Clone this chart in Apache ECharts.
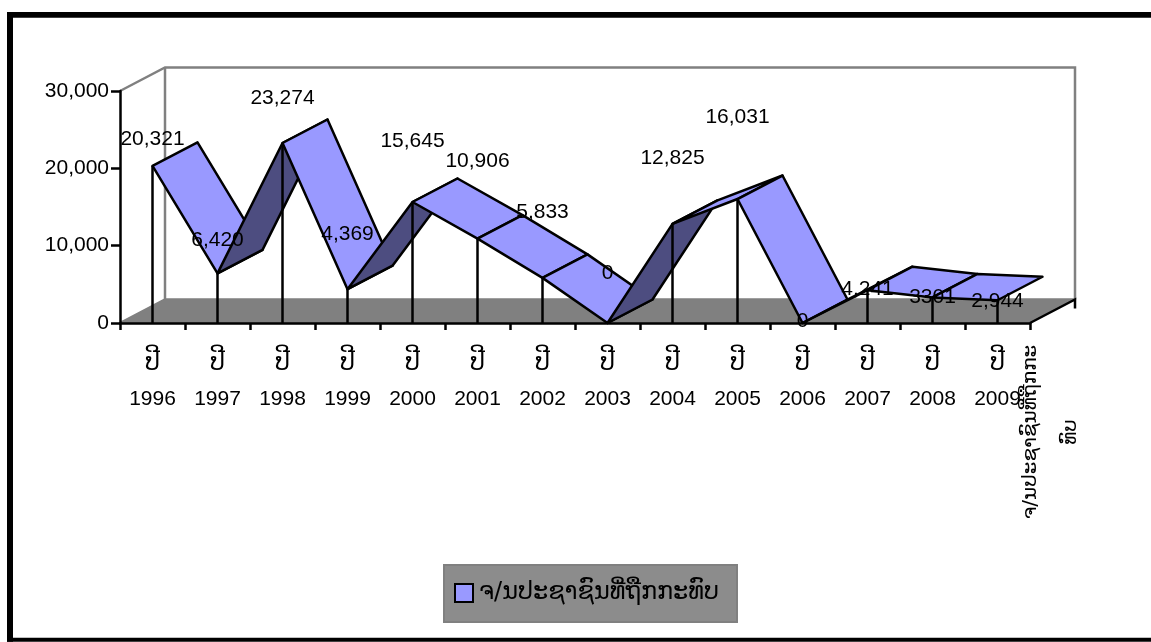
<!DOCTYPE html>
<html>
<head>
<meta charset="utf-8">
<style>html,body{margin:0;padding:0;background:#fff}#c{width:1151px;height:642px}</style>
<script src="https://cdn.jsdelivr.net/npm/echarts@6/dist/echarts.min.js"></script>
</head>
<body>
<div id="c"></div>
<script>
const years = ['1996','1997','1998','1999','2000','2001','2002','2003','2004','2005','2006','2007','2008','2009'];
const yearPrefix = 'ປີ';
const values = [20321,6420,23274,4369,15645,10906,5833,0,12825,16031,0,4241,3301,2944];
const valueLabels = ['20,321','6,420','23,274','4,369','15,645','10,906','5,833','0','12,825','16,031','0','4,241','3301','2,944'];
const labelLift = [27,33,45,55,61,77,66,50,66,82,2,1,0,-1];
const seriesName = 'ຈ/ນປະຊາຊົນທີ່ຖືກກະທົບ';
const axisSideLines = ['ຈ/ນປະຊາຊົນທີ່ຖືກກະ','ທົບ'];
const yTicks = {min:0,max:30000,interval:10000};

const DX = 45, DY = -23.5;
const LATIN = '"Liberation Sans", Arial, sans-serif';
const LAO = '"DejaVu Sans", "Noto Sans", sans-serif';
const FILL = '#9999FF', DARK = '#4D4D80', GREY = '#808080';
const LW = 2.5;
const back = p => [p[0]+DX, p[1]+DY];

function renderBox(params, api){
  const r = params.coordSys;
  const x0=r.x, x1=r.x+r.width, y0=r.y, y1=r.y+r.height;
  const line=(pts,stroke)=>({type:'polyline',shape:{points:pts},style:{fill:null,stroke,lineWidth:LW}});
  return {type:'group',children:[
    {type:'polygon',shape:{points:[[x0,y1],[x1,y1],back([x1,y1]),back([x0,y1])]},style:{fill:GREY,stroke:GREY,lineWidth:1}},
    line([[x0,y0],back([x0,y0]),back([x1,y0]),back([x1,y1])],GREY),
    line([back([x0,y0]),back([x0,y1])],GREY),
    line([[x0,y1],back([x0,y1]),back([x1,y1])],GREY),
    line([[x1,y1],back([x1,y1]),[x1+DX,y1+DY+9]],'#000')
  ]};
}
function renderRibbon(params, api){
  const i=api.value(0);
  if(i>=values.length-1){
    return {type:'group',children:[]};
  }
  const a=api.coord([i,api.value(1)]);
  const b=api.coord([i+1,values[i+1]]);
  const sx=b[0]-a[0], sy=b[1]-a[1];
  const cross=sx*DY-sy*DX;
  return {type:'polygon',shape:{points:[a,b,back(b),back(a)]},
    style:{fill:cross<0?FILL:DARK,stroke:'#000',lineWidth:LW,lineJoin:'round'}};
}
function renderDrop(params, api){
  const p=api.coord([api.value(0),api.value(1)]);
  const base=api.coord([api.value(0),0]);
  return {type:'line',shape:{x1:p[0],y1:p[1],x2:base[0],y2:base[1]},style:{stroke:'#000',lineWidth:LW}};
}
function renderLabel(params, api){
  const i=api.value(0);
  const p=api.coord([i,api.value(1)]);
  return {type:'text',x:p[0],y:p[1]-labelLift[i],
    style:{text:valueLabels[i],fill:'#000',font:'21px '+LATIN,textAlign:'center',textVerticalAlign:'middle'}};
}
const rows = values.map((v,i)=>[i,v]);
const chart = echarts.init(document.getElementById('c'),null,{renderer:'canvas'});
chart.setOption({
  animation:false,
  backgroundColor:'#fff',
  grid:{left:120,top:91,width:910,height:232},
  legend:{
    data:[{name:seriesName,icon:'rect',itemStyle:{color:FILL,borderColor:'#000',borderWidth:2}}],
    left:444,top:565,padding:[16,18,17,10],
    itemWidth:18,itemHeight:18,itemGap:0,
    backgroundColor:'#8C8C8C',borderColor:GREY,borderWidth:2,
    textStyle:{color:'#000',fontFamily:LAO,fontSize:24,padding:[0,0,0,1]}
  },
  xAxis:{
    type:'category',data:years,boundaryGap:true,z:5,
    axisLine:{lineStyle:{color:'#000',width:LW}},
    axisTick:{show:true,length:7,lineStyle:{color:'#000',width:LW}},
    axisLabel:{interval:0,margin:16,color:'#000',
      formatter:v=>'{p|'+yearPrefix+'}\n{y|'+v+'}',
      rich:{p:{fontFamily:LAO,fontSize:24,lineHeight:50},y:{fontFamily:LATIN,fontSize:21,lineHeight:20}}},
    splitLine:{show:false}
  },
  yAxis:{
    type:'value',min:yTicks.min,max:yTicks.max,interval:yTicks.interval,z:5,
    axisLine:{show:true,lineStyle:{color:'#000',width:LW}},
    axisTick:{show:true,length:9,lineStyle:{color:'#000',width:LW}},
    axisLabel:{margin:11,color:'#000',fontFamily:LATIN,fontSize:21,
      formatter:v=>v.toLocaleString('en-US')},
    splitLine:{show:false}
  },
  series:[
    {type:'custom',name:'box',coordinateSystem:'cartesian2d',renderItem:renderBox,data:[[0,0]],z:1,silent:true},
    {type:'custom',name:seriesName,coordinateSystem:'cartesian2d',renderItem:renderRibbon,data:rows,z:2,
      encode:{x:0,y:1},itemStyle:{color:FILL}},
    {type:'custom',name:'drop',coordinateSystem:'cartesian2d',renderItem:renderDrop,data:rows,z:3,silent:true},
    {type:'custom',name:'labels',coordinateSystem:'cartesian2d',renderItem:renderLabel,data:rows,z:10,silent:true}
  ],
  graphic:[
    {type:'rect',z:100,silent:true,shape:{x:7,y:12,width:1144,height:5.7},style:{fill:'#000'}},
    {type:'rect',z:100,silent:true,shape:{x:7,y:12,width:6,height:629.7},style:{fill:'#000'}},
    {type:'rect',z:100,silent:true,shape:{x:7,y:637.7,width:1144,height:4},style:{fill:'#000'}},
    {type:'text',z:20,x:1051,y:432,rotation:Math.PI/2,silent:true,
      style:{text:axisSideLines.join('\n'),fill:'#000',font:'20px '+LAO,lineHeight:40,textAlign:'center',textVerticalAlign:'middle'}}
  ]
});
</script>
</body>
</html>
